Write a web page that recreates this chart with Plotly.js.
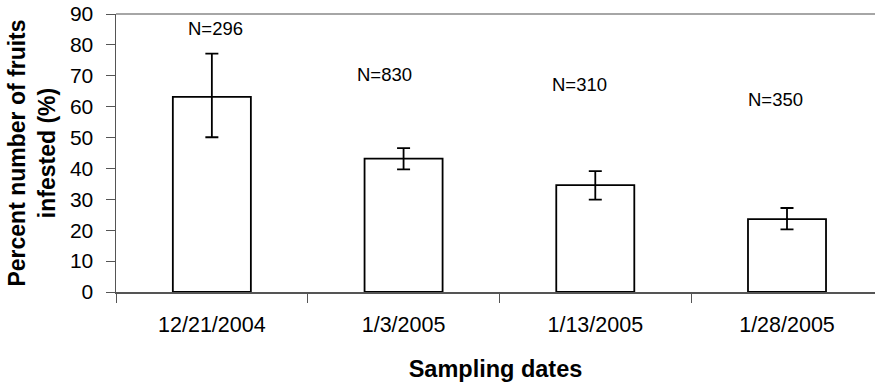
<!DOCTYPE html>
<html>
<head>
<meta charset="utf-8">
<script src="https://cdn.plot.ly/plotly-3.0.1.min.js"></script>
<style>html,body{margin:0;padding:0;background:#fff;}#chart{width:875px;height:382px;}</style>
</head>
<body>
<div id="chart"></div>
<script>
const categories = ['12/21/2004', '1/3/2005', '1/13/2005', '1/28/2005'];
const percentInfested = [63.2, 43.2, 34.6, 23.6];
const errorPlus = [14.0, 3.4, 4.5, 3.6];
const errorMinus = [13.1, 3.5, 4.7, 3.3];
const sampleSizes = ['N=296', 'N=830', 'N=310', 'N=350'];
const labelHeights = [85.3, 70.3, 67.3, 62.3];
const labelOffsets = [0.02, -0.1, -0.08, -0.06];
const yTicks = [0, 10, 20, 30, 40, 50, 60, 70, 80, 90];

const FONT = 'Liberation Sans, Arial, sans-serif';

const trace = {
  type: 'bar',
  x: categories,
  y: percentInfested,
  width: 0.407,
  marker: { color: '#ffffff', line: { color: '#000000', width: 1.8 } },
  error_y: {
    type: 'data', symmetric: false,
    array: errorPlus, arrayminus: errorMinus,
    color: '#000000', thickness: 1.8, width: 6.5
  },
  hoverinfo: 'skip'
};

const annotations = sampleSizes.map((t, i) => ({
  x: i + labelOffsets[i], y: labelHeights[i], xref: 'x', yref: 'y',
  text: t, showarrow: false,
  font: { family: FONT, size: 18.5, color: '#000' },
  xanchor: 'center', yanchor: 'middle'
}));

const layout = {
  width: 875, height: 382,
  margin: { l: 116, r: 0, t: 14, b: 90, pad: 0 },
  paper_bgcolor: '#ffffff', plot_bgcolor: '#ffffff',
  showlegend: false,
  xaxis: {
    type: 'category',
    range: [-0.5, 3.459],
    tickson: 'boundaries',
    ticks: 'outside', ticklen: 9, tickwidth: 1, tickcolor: '#555',
    showline: true, linecolor: '#555', linewidth: 1.5,
    showgrid: false, zeroline: false,
    tickfont: { family: FONT, size: 21.5, color: '#000' },
    ticklabelstandoff: 13,
    title: { text: '<b>Sampling dates</b>', font: { family: FONT, size: 23.5, color: '#000' }, standoff: 24 },
    automargin: false
  },
  yaxis: {
    range: [0, 90],
    tickvals: yTicks,
    ticks: 'outside', ticklen: 9, tickwidth: 1, tickcolor: '#555',
    showline: true, linecolor: '#555', linewidth: 1.5,
    showgrid: false, zeroline: false,
    tickfont: { family: FONT, size: 21, color: '#000' },
    ticklabelstandoff: 8,
    title: { text: '<b>Percent number of fruits<br>infested (%)</b>', font: { family: FONT, size: 23, color: '#000' }, standoff: 8 },
    automargin: false
  },
  shapes: [{
    type: 'line', xref: 'paper', yref: 'paper', x0: 0, x1: 1, y0: 1, y1: 1,
    line: { color: '#888', width: 1.5 }
  }],
  annotations: annotations
};

Plotly.newPlot('chart', [trace], layout, { displayModeBar: false, staticPlot: true });
</script>
</body>
</html>
